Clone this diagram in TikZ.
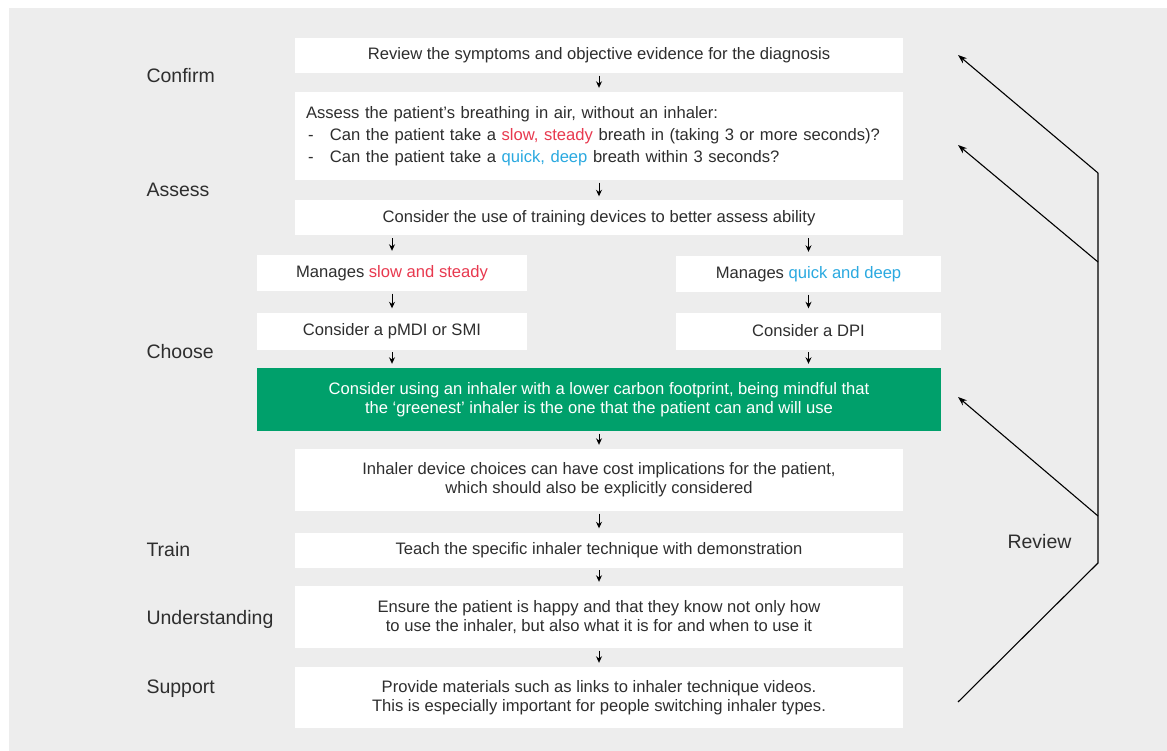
\documentclass[tikz,border=0pt]{standalone}
\usepackage{fontspec}
\setmainfont{Liberation Sans}
\usetikzlibrary{arrows.meta}
\definecolor{bggray}{HTML}{EDEDED}
\definecolor{txtgray}{HTML}{2E2E2E}
\definecolor{slowred}{HTML}{E8394F}
\definecolor{quickblue}{HTML}{2AA9E0}
\definecolor{greenbox}{HTML}{00A06B}
\begin{document}
\begin{tikzpicture}[x=1pt, y=-1pt,
  box/.style={fill=white, inner sep=0pt, align=center, text=txtgray,
    minimum width=608pt, minimum height=35pt, font=\fontsize{16.6}{19}\selectfont},
  sidebox/.style={box, minimum width=268pt, minimum height=36pt},
  stage/.style={anchor=west, text=txtgray, font=\fontsize{19.5}{22}\selectfont},
  arr/.style={-{Stealth[length=6.5pt,width=6pt]}, line width=1pt, shorten <=2.5pt, shorten >=4pt},
  revarr/.style={-{Stealth[length=9pt,width=6.5pt]}, line width=1.1pt},
  revline/.style={line width=1.1pt}]
\useasboundingbox (0,0) rectangle (1167,751);
\fill[bggray] (9,8) rectangle (1167,751);
%flow boxes
\node[box] (b1) at (599,55.5) {Review the symptoms and objective evidence for the diagnosis};
\node[box, minimum height=88pt, text width=586pt, align=left, font=\fontsize{16.6}{22}\selectfont] (b2) at (599,136)
  {Assess the patient's breathing in air, without an inhaler:\\
   \makebox[24pt][l]{\hspace{2pt}-}Can the patient take a \textcolor{slowred}{slow, steady} breath in (taking 3 or more seconds)?\\
   \makebox[24pt][l]{\hspace{2pt}-}Can the patient take a \textcolor{quickblue}{quick, deep} breath within 3 seconds?};
\node[box] (b3) at (599,218) {Consider the use of training devices to better assess ability};
%two branches
\node[sidebox, minimum width=270pt] (ml) at (392,273) {Manages \textcolor{slowred}{slow and steady}};
\node[sidebox, minimum width=265pt] (mr) at (808.5,274) {Manages \textcolor{quickblue}{quick and deep}};
\node[sidebox, minimum width=270pt, minimum height=37pt] (cl) at (392,331) {Consider a pMDI or SMI};
\node[sidebox, minimum width=265pt, minimum height=37pt] (cr) at (808.5,331) {Consider a DPI};
%green box
\node[box, fill=greenbox, text=white, minimum width=684pt, minimum height=63pt] (gr) at (599,399.5)
  {Consider using an inhaler with a lower carbon footprint, being mindful that\\the `greenest' inhaler is the one that the patient can and will use};
\node[box, minimum height=62pt] (cost) at (599,480)
  {Inhaler device choices can have cost implications for the patient,\\which should also be explicitly considered};
\node[box] (train) at (599,550) {Teach the specific inhaler technique with demonstration};
\node[box, minimum height=62pt] (und) at (599,617)
  {Ensure the patient is happy and that they know not only how\\to use the inhaler, but also what it is for and when to use it};
\node[box, minimum height=61pt] (sup) at (599,697.5)
  {Provide materials such as links to inhaler technique videos.\\This is especially important for people switching inhaler types.};
%stage labels
\node[stage] (confirm) at (143,76) {Confirm};
\node[stage] (assess) at (143,190) {Assess};
\node[stage] (choose) at (143,352) {Choose};
\node[stage] (trainlbl) at (143,550) {Train};
\node[stage] (underst) at (143,619) {Understanding};
\node[stage] (support) at (143,689) {Support};
\node[stage] (review) at (1004,542) {Review};
%arrows down the column
\draw[arr] (b1) -- (b2);
\draw[arr] (b2) -- (b3);
\draw[arr] (b3.south -| ml.north) -- (ml.north);
\draw[arr] (b3.south -| mr.north) -- (mr.north);
\draw[arr] (ml) -- (cl);
\draw[arr] (mr) -- (cr);
\draw[arr] (cl.south) -- (gr.north -| cl.south);
\draw[arr] (cr.south) -- (gr.north -| cr.south);
\draw[arr] (gr) -- (cost);
\draw[arr] (cost) -- (train);
\draw[arr] (train) -- (und);
\draw[arr] (und) -- (sup);
%review loop
\coordinate (R1) at (1098,173);
\coordinate (R2) at (1098,262);
\coordinate (R3) at (1098,516);
\coordinate (R4) at (1098,563);
\coordinate (T1) at (958,55);
\coordinate (T2) at (958,145);
\coordinate (T3) at (958,397);
\coordinate (T4) at (958,702);
\draw[revline] (R1) -- (R4) -- (T4);
\draw[revarr] (R1) -- (T1);
\draw[revarr] (R2) -- (T2);
\draw[revarr] (R3) -- (T3);
\end{tikzpicture}
\end{document}
